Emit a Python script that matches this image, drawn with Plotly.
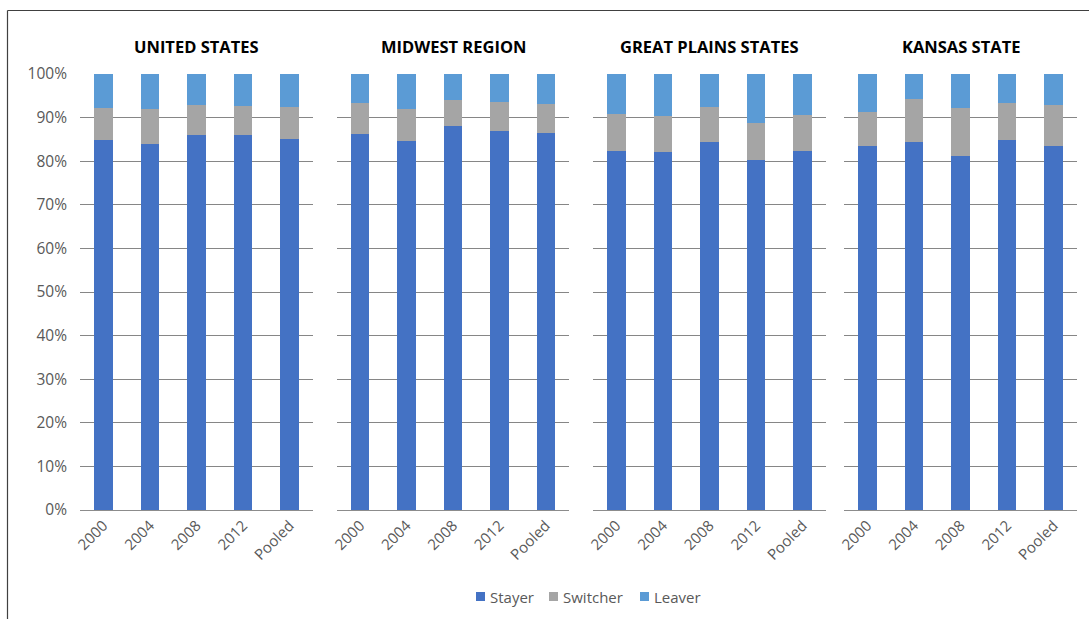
import plotly.graph_objects as go

# Share of voters by status, per election year and region
regions = ["UNITED STATES", "MIDWEST REGION", "GREAT PLAINS STATES", "KANSAS STATE"]
years = ["2000", "2004", "2008", "2012", "Pooled"]

stayer = {
    "UNITED STATES":       [0.849, 0.840, 0.860, 0.860, 0.852],
    "MIDWEST REGION":      [0.862, 0.846, 0.881, 0.869, 0.864],
    "GREAT PLAINS STATES": [0.823, 0.821, 0.845, 0.803, 0.823],
    "KANSAS STATE":        [0.836, 0.845, 0.813, 0.849, 0.836],
}
switcher = {
    "UNITED STATES":       [0.074, 0.079, 0.070, 0.066, 0.072],
    "MIDWEST REGION":      [0.071, 0.074, 0.060, 0.067, 0.068],
    "GREAT PLAINS STATES": [0.086, 0.083, 0.079, 0.085, 0.084],
    "KANSAS STATE":        [0.078, 0.098, 0.110, 0.084, 0.094],
}
leaver = {
    "UNITED STATES":       [0.077, 0.081, 0.070, 0.074, 0.076],
    "MIDWEST REGION":      [0.067, 0.080, 0.059, 0.064, 0.068],
    "GREAT PLAINS STATES": [0.091, 0.096, 0.076, 0.112, 0.093],
    "KANSAS STATE":        [0.086, 0.057, 0.077, 0.067, 0.070],
}

series = [
    ("Stayer", stayer, "#4472C4"),
    ("Switcher", switcher, "#A5A5A5"),
    ("Leaver", leaver, "#5B9BD5"),
]

W, H = 1089, 619
panel_px = [(80, 313), (337, 569), (593, 826), (844, 1077)]
y_top_px, y_bot_px = 74, 510
legend_px = [476, 549, 640]   # left edge of each legend swatch
FONT = "Open Sans, Liberation Sans, sans-serif"

fig = go.Figure()
for i, region in enumerate(regions):
    ax = "" if i == 0 else str(i + 1)
    for name, data, color in series:
        fig.add_trace(go.Bar(
            x=years, y=data[region], name=name,
            marker=dict(color=color, line=dict(width=0)),
            xaxis="x" + ax, yaxis="y" + ax,
            showlegend=False, legendgroup=name,
            hovertemplate=f"{region}<br>%{{x}}<br>{name}: %{{y:.1%}}<extra></extra>",
        ))

shapes = [
    # outer chart frame
    dict(type="line", xref="paper", yref="paper", x0=7.5 / W, x1=1.01, y0=1 - 10.5 / H, y1=1 - 10.5 / H,
         line=dict(color="#404040", width=1.2)),
    dict(type="line", xref="paper", yref="paper", x0=7.5 / W, x1=7.5 / W, y0=-0.01, y1=1 - 10.5 / H,
         line=dict(color="#404040", width=1.2)),
]
annotations = []

# legend: square swatch + label for each series
for (name, _, color), lx in zip(series, legend_px):
    shapes.append(dict(type="rect", xref="paper", yref="paper",
                       x0=lx / W, x1=(lx + 9) / W, y0=1 - 601 / H, y1=1 - 592 / H,
                       fillcolor=color, line=dict(width=0)))
    annotations.append(dict(text=name, xref="paper", yref="paper",
                            x=(lx + 12) / W, y=1 - 596.5 / H, xanchor="left", yanchor="middle",
                            showarrow=False, font=dict(family=FONT, size=15, color="#595959")))

layout = dict(
    width=W, height=H,
    margin=dict(l=0, r=0, t=0, b=0, autoexpand=False),
    paper_bgcolor="white", plot_bgcolor="white",
    barmode="stack", bargap=0.6,
    font=dict(family=FONT, size=14, color="#595959"),
    showlegend=False,
)

ydom = [1 - y_bot_px / H, 1 - y_top_px / H]
for i, region in enumerate(regions):
    ax = "" if i == 0 else str(i + 1)
    x0, x1 = panel_px[i]
    layout["xaxis" + ax] = dict(
        domain=[x0 / W, x1 / W], anchor="y" + ax, type="category",
        range=[-0.5, 4.5], tickangle=-45, showgrid=False, automargin=False,
        showline=True, linecolor="#8c8c8c", linewidth=1, ticks="",
        tickfont=dict(size=15, color="#595959"),
    )
    layout["yaxis" + ax] = dict(
        domain=ydom, anchor="x" + ax, range=[0, 1], automargin=False,
        tickvals=[v / 10 for v in range(11)], tickformat=".0%",
        showgrid=True, gridcolor="#868686", gridwidth=1, zeroline=False,
        showticklabels=(i == 0), ticks="", ticklabelstandoff=12,
        tickfont=dict(size=15.5, color="#595959"),
    )
    annotations.append(dict(
        text=f"<b>{region}</b>", xref="paper", yref="paper",
        x=(x0 + x1) / 2 / W, y=1 - 46 / H, xanchor="center", yanchor="middle",
        showarrow=False, font=dict(family=FONT, size=16.5, color="#000000"),
    ))

layout["shapes"] = shapes
layout["annotations"] = annotations
fig.update_layout(**layout)
fig.write_html(
    "out.html",
    post_script="document.body.style.margin='0';document.body.style.overflow='hidden';",
)
